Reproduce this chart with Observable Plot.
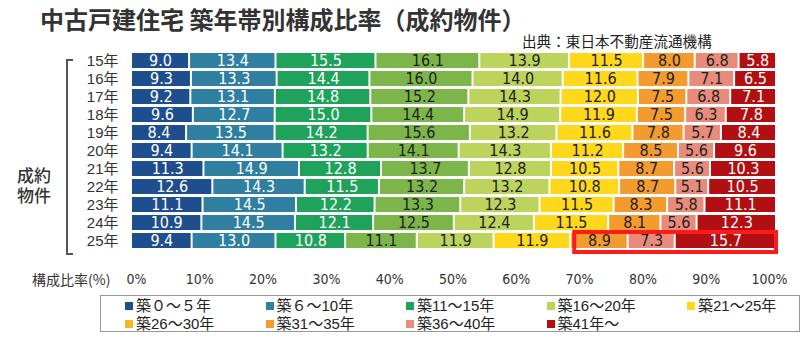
<!DOCTYPE html>
<html>
<head>
<meta charset="utf-8">
<script src="https://cdn.jsdelivr.net/npm/d3@7"></script>
<script src="https://cdn.jsdelivr.net/npm/@observablehq/plot@0.6"></script>
<style>
  html, body { margin: 0; padding: 0; background: #fff; }
  #wrap { position: relative; width: 811px; height: 341px; overflow: hidden; font-family: "Noto Sans CJK JP", sans-serif; color: #333; }
  #title { position: absolute; left: 40px; top: 7px; font-size: 24px; line-height: 1; font-weight: 700; color: #333; white-space: nowrap; }
  #source { position: absolute; left: 522px; top: 34px; font-size: 14.6px; line-height: 1; color: #222; white-space: nowrap; }
  #main { position: absolute; left: 0; top: 0; }
  #axis { position: absolute; left: 0; top: 267px; }
  #bracket { position: absolute; left: 66px; top: 59px; width: 5px; height: 192px; border: 2px solid #555; border-right: none; }
  .group { position: absolute; left: 17px; font-family: "Liberation Sans", "Noto Sans CJK JP", sans-serif; font-size: 17px; line-height: 17px; height: 17px; font-weight: 500; color: #333; white-space: nowrap; }
  #axislabel { position: absolute; left: 32px; top: 271px; font-size: 14px; line-height: 16px; color: #333; white-space: nowrap; }
  #legend { position: absolute; left: 100px; top: 295px; width: 700px; height: 37px; border: 1px solid #999; box-sizing: border-box; }
  .item { position: absolute; font-family: "Liberation Sans", "Noto Sans CJK JP", sans-serif; font-size: 15px; line-height: 16px; height: 16px; color: #222; white-space: nowrap; }
  .sw { display: inline-block; width: 8px; height: 8px; margin-right: 3px; vertical-align: 1px; }
</style>
</head>
<body>
<div id="wrap">
  <div id="main"></div>
  <div id="axis"></div>
  <div id="title"></div>
  <div id="source"></div>
  <div id="bracket"></div>
  <div id="axislabel"></div>
  <div id="legend"></div>
</div>
<script>
// ---- data ----
const titleText = "中古戸建住宅 築年帯別構成比率（成約物件）";
const sourceText = "出典：東日本不動産流通機構";
const groupLabel = ["成約", "物件"];
const axisLabelText = "構成比率(%)";

const years = ["15年", "16年", "17年", "18年", "19年", "20年", "21年", "22年", "23年", "24年", "25年"];
const ageBands = ["築0～5年", "築6～10年", "築11～15年", "築16～20年", "築21～25年", "築26～30年", "築31～35年", "築36～40年", "築41年～"];
const legendLabels = ["築０～５年", "築６～10年", "築11～15年", "築16～20年", "築21～25年", "築26～30年", "築31～35年", "築36～40年", "築41年～"];

// share (%) per year, in ageBands order
const shares = [
  [9.0, 13.4, 15.5, 16.1, 13.9, 11.5, 8.0, 6.8, 5.8],
  [9.3, 13.3, 14.4, 16.0, 14.0, 11.6, 7.9, 7.1, 6.5],
  [9.2, 13.1, 14.8, 15.2, 14.3, 12.0, 7.5, 6.8, 7.1],
  [9.6, 12.7, 15.0, 14.4, 14.9, 11.9, 7.5, 6.3, 7.8],
  [8.4, 13.5, 14.2, 15.6, 13.2, 11.6, 7.8, 5.7, 8.4],
  [9.4, 14.1, 13.2, 14.1, 14.3, 11.2, 8.5, 5.6, 9.6],
  [11.3, 14.9, 12.8, 13.7, 12.8, 10.5, 8.7, 5.6, 10.3],
  [12.6, 14.3, 11.5, 13.2, 13.2, 10.8, 8.7, 5.1, 10.5],
  [11.1, 14.5, 12.2, 13.3, 12.3, 11.5, 8.3, 5.8, 11.1],
  [10.9, 14.5, 12.1, 12.5, 12.4, 11.5, 8.1, 5.6, 12.3],
  [9.4, 13.0, 10.8, 11.1, 11.9, 11.9, 8.9, 7.3, 15.7]
];

const tickValues = [0, 10, 20, 30, 40, 50, 60, 70, 80, 90, 100];

// highlighted: last three bands of the latest year
const highlightYear = "25年";
const highlightFromBand = 6;

// ---- styles ----
const barColors = ["#1f4e8e", "#2f7fa1", "#1fa35b", "#7cb64b", "#bcd35c", "#ffd81c", "#f39b2e", "#e98b7b", "#b10f12"];
const legendColors = ["#1f4e8e", "#2f7fa1", "#1fa35b", "#bcd35c", "#ffd81c", "#f6b824", "#f39b2e", "#e98b7b", "#b10f12"];
const whiteTextBands = new Set([ageBands[0], ageBands[1], ageBands[2], ageBands[8]]);
const numFont = "'Liberation Sans Narrow', 'DejaVu Sans Condensed', 'Roboto Condensed', 'Arial Narrow', Roboto, sans-serif";

// ---- build ----
const data = years.flatMap((y, i) => shares[i].map((v, j) => ({year: y, band: ageBands[j], value: v})));

const hiRow = shares[years.indexOf(highlightYear)];
const hiTotal = d3.sum(hiRow);
const box = [{year: highlightYear, x1: d3.sum(hiRow.slice(0, highlightFromBand)) / hiTotal, x2: 1}];

const main = Plot.plot({
  width: 811,
  height: 258,
  marginLeft: 131,
  marginRight: 35,
  marginTop: 50,
  marginBottom: 6,
  x: {domain: [0, 1], axis: null},
  y: {domain: years, padding: 0.15, label: null, tickSize: 0, tickPadding: 13},
  color: {domain: ageBands, range: barColors},
  style: {fontFamily: "'Liberation Sans', 'Noto Sans CJK JP', sans-serif", fontSize: "15px", color: "#333", background: "transparent"},
  marks: [
    Plot.barX(data, Plot.stackX({offset: "normalize", x: "value", y: "year", fill: "band", z: "band", insetLeft: 1, insetRight: 1})),
    Plot.text(data, Plot.stackX({
      offset: "normalize", x: "value", y: "year", z: "band",
      text: d => d.value.toFixed(1),
      fill: d => whiteTextBands.has(d.band) ? "#ffffff" : "#222222",
      fontSize: 16, fontFamily: numFont, letterSpacing: "1.2px"
    })),
    Plot.barX(box, {x1: "x1", x2: "x2", y: "year", fill: "none", stroke: "#ff1b1b", strokeWidth: 4, insetTop: -1, insetBottom: -4, insetLeft: 4})
  ]
});
document.getElementById("main").appendChild(main);

const axis = Plot.plot({
  width: 811,
  height: 24,
  marginLeft: 136,
  marginRight: 42,
  marginTop: 0,
  marginBottom: 0,
  x: {domain: [0, 100], axis: null},
  y: {axis: null},
  style: {background: "transparent"},
  marks: [
    Plot.text(tickValues, {x: d => d, text: d => d + "%", frameAnchor: "middle", fontSize: 14, fontFamily: numFont, fill: "#333"})
  ]
});
document.getElementById("axis").appendChild(axis);

document.getElementById("title").textContent = titleText;
document.getElementById("source").textContent = sourceText;
document.getElementById("axislabel").textContent = axisLabelText;

const wrap = document.getElementById("wrap");
groupLabel.forEach((t, i) => {
  const el = document.createElement("div");
  el.className = "group";
  el.style.top = (168 + i * 20) + "px";
  el.textContent = t;
  wrap.appendChild(el);
});

const legend = document.getElementById("legend");
legendLabels.forEach((lab, i) => {
  const col = i % 5, row = Math.floor(i / 5);
  const el = document.createElement("div");
  el.className = "item";
  el.style.left = (24 + col * 140.5) + "px";
  el.style.top = (2 + row * 18) + "px";
  el.innerHTML = `<span class="sw" style="background:${legendColors[i]}"></span>${lab}`;
  legend.appendChild(el);
});
</script>
</body>
</html>
